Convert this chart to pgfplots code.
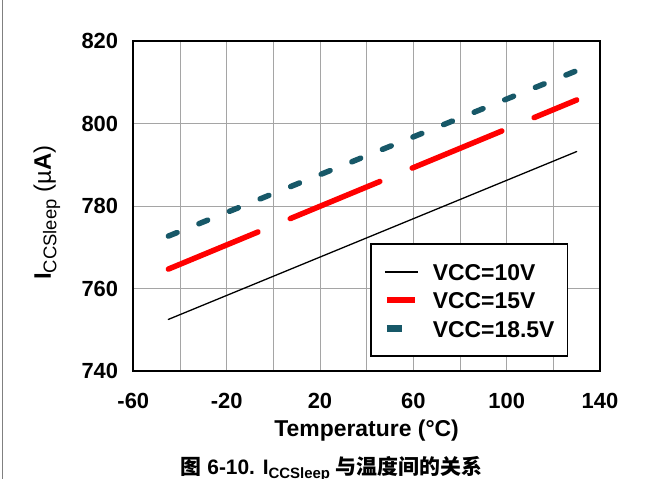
\documentclass[border=0pt]{standalone}
\usepackage{fontspec}
\setmainfont{Liberation Sans}
\newfontfamily\cjk{Noto Sans CJK SC}
\usepackage{pgfplots}
\pgfplotsset{compat=1.18}
\definecolor{tealc}{RGB}{23,88,104}
\definecolor{gridc}{RGB}{165,165,165}
\begin{document}
\begin{tikzpicture}
\useasboundingbox (0bp,0bp) rectangle (663bp,479bp);
\fill[white] (0bp,0bp) rectangle (663bp,479bp);
\draw[gray, line width=1bp] (2bp,0bp) -- (2bp,479bp);
\begin{axis}[
  at={(133.3bp,108bp)}, anchor=south west,
  scale only axis, width=466.7bp, height=330bp,
  xmin=-60, xmax=140, ymin=740, ymax=820,
  xtick={-60,-20,...,140}, minor xtick={-40,0,...,120},
  ytick={740,760,...,820},
  grid=both,
  major grid style={gridc, line width=0.8bp},
  minor grid style={gridc, line width=0.8bp},
  major tick length=0pt, minor tick length=0pt,
  axis line style={line width=1.8bp},
  /pgf/number format/assume math mode=true,
  tick label style={font=\fontsize{22}{22}\selectfont\bfseries, inner sep=0pt},
  yticklabel style={anchor=east, xshift=-15bp},
  xticklabel style={anchor=north, yshift=-21.5bp},
  xlabel={Temperature (°C)},
  x label style={at={(axis description cs:0.5,-0.1818)}, anchor=center, inner sep=0pt, font=\fontsize{23}{23}\selectfont\bfseries},
  ylabel={{\fontsize{24}{24}\selectfont\bfseries I}{\fontsize{18.5}{18.5}\selectfont\raisebox{-5.5bp}{CCSleep}}\hspace{7bp}{\fontsize{24}{24}\selectfont (µ\textbf{A})}},
  y label style={at={(axis description cs:-0.185,0.480)}, anchor=center, inner sep=0pt},
  legend style={at={(axis description cs:0.507,0.0424)}, anchor=south west,
    draw=black, line width=1.6bp, fill=white,
    font=\fontsize{23}{23}\selectfont\bfseries,
    inner xsep=13bp, inner ysep=19bp, row sep=11.5bp,
    nodes={inner sep=0pt, text height=17bp, text depth=0pt, anchor=west},
    /tikz/every odd column/.append style={column sep=14bp}},
  legend cell align=left,
]
\addplot[black, line width=1.3bp, line cap=round,
  legend image code/.code={\draw[black, line width=1.6bp, line cap=butt, solid] (0bp,0bp) -- (33bp,0bp);}]
  coordinates {(-45,752.5) (130,793.2)};
\addlegendentry{VCC=10V}
\addplot[red, line width=5.5bp, line cap=round, dash pattern=on 97bp off 35bp,
  legend image code/.code={\draw[red, line width=6.5bp, line cap=butt, solid] (2bp,0bp) -- (30bp,0bp);}]
  coordinates {(-45,764.7) (130,805.7)};
\addlegendentry{VCC=15V}
\addplot[tealc, line width=5.5bp, line cap=round, dash pattern=on 9.5bp off 23.5bp,
  legend image code/.code={\draw[tealc, line width=6.5bp, line cap=butt, solid] (2bp,0bp) -- (17bp,0bp);}]
  coordinates {(-45,772.7) (130,812.8)};
\addlegendentry{VCC=18.5V}
\end{axis}
\node[anchor=base, inner sep=0pt] at (331.5bp,4.5bp) {\fontsize{21}{21}\selectfont\bfseries{\cjk 图} 6-10. I{\fontsize{15}{15}\selectfont\raisebox{-4bp}{CCSleep}} {\cjk 与温度间的关系}};
\end{tikzpicture}
\end{document}
